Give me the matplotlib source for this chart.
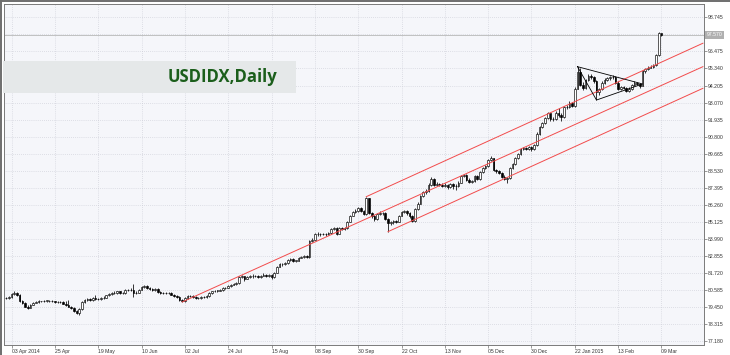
import numpy as np
import matplotlib
matplotlib.use("Agg")
import matplotlib.pyplot as plt
from matplotlib.patches import Rectangle
from matplotlib.lines import Line2D
from matplotlib.transforms import blended_transform_factory

# daily bars, 01 Apr 2014 .. 09 Mar 2015 (index 0 = 01 Apr)
first_open = 80.10
closes = [
    80.05, 80.12, 80.35, 80.42, 80.30, 79.88, 79.72, 79.50, 79.42, 79.62,
    79.76, 79.82, 79.84, 79.85, 79.88, 79.90, 79.86, 79.84, 79.80, 79.78,
    79.83, 79.70, 79.62, 79.50, 79.40, 79.22, 79.10, 79.35, 79.80, 79.95,
    80.02, 79.92, 80.05, 80.00, 80.02, 80.05, 80.10, 80.25, 80.35, 80.38,
    80.42, 80.50, 80.42, 80.40, 80.58, 80.60, 80.62, 80.40, 80.42, 80.62,
    80.78, 80.85, 80.75, 80.68, 80.62, 80.68, 80.48, 80.42, 80.40, 80.38,
    80.40, 80.30, 80.22, 80.15, 79.92, 79.85, 80.05, 80.18, 80.20, 80.15,
    80.08, 80.05, 80.12, 80.15, 80.18, 80.42, 80.50, 80.55, 80.55, 80.58,
    80.72, 80.75, 80.85, 80.95, 81.00, 81.05, 81.45, 81.50, 81.35, 81.45,
    81.55, 81.50, 81.55, 81.45, 81.55, 81.62, 81.55, 81.58, 81.45, 81.75,
    82.15, 82.35, 82.30, 82.40, 82.60, 82.65, 82.55, 82.55, 82.75, 82.80,
    82.85, 82.80, 83.85, 83.95, 84.30, 84.35, 84.30, 84.35, 84.30, 84.38,
    84.65, 84.70, 84.35, 84.75, 84.65, 84.70, 85.15, 85.55, 85.80, 85.85,
    86.05, 85.85, 85.65, 86.70, 85.75, 85.50, 85.30, 85.65, 85.75, 85.70,
    85.35, 85.05, 85.10, 85.20, 85.15, 85.55, 85.80, 85.85, 85.70, 85.50,
    85.20, 86.00, 86.35, 86.85, 87.10, 87.20, 87.60, 88.00, 87.60, 87.65,
    87.60, 87.55, 87.60, 87.45, 87.65, 87.50, 87.55, 87.75, 88.20, 88.25,
    87.95, 87.80, 87.85, 88.20, 88.00, 88.45, 88.70, 88.85, 89.25, 89.35,
    88.60, 88.50, 88.40, 88.15, 88.00, 88.05, 88.70, 89.00, 89.40, 89.65,
    89.95, 90.05, 90.00, 90.10, 89.95, 90.25, 91.00, 91.45, 91.70, 92.05,
    92.35, 91.95, 92.00, 92.35, 92.25, 92.10, 92.75, 92.80, 93.05, 92.85,
    94.00, 95.10, 94.25, 94.05, 94.55, 94.85, 94.75, 94.50, 93.75, 93.95,
    94.40, 94.60, 94.70, 94.75, 94.80, 94.40, 94.00, 94.10, 94.05, 93.85,
    94.00, 94.25, 94.40, 94.30, 94.20, 95.15, 95.30, 95.40, 95.45, 95.55,
    96.25, 97.68, 97.57,
]
highs = [
    80.16, 80.18, 80.40, 80.52, 80.48, 80.34, 79.95, 79.78, 79.58, 79.68,
    79.82, 79.90, 79.92, 79.90, 79.95, 79.96, 79.95, 79.92, 79.90, 79.86,
    79.90, 79.88, 79.86, 79.95, 79.56, 79.46, 79.28, 79.42, 79.86, 80.02,
    80.10, 80.08, 80.12, 80.28, 80.10, 80.12, 80.18, 80.30, 80.42, 80.44,
    80.50, 80.56, 80.56, 80.48, 80.64, 80.68, 80.70, 81.02, 80.52, 80.68,
    80.84, 80.92, 80.90, 80.80, 80.72, 80.75, 80.72, 80.54, 80.48, 80.46,
    80.46, 80.45, 80.36, 80.28, 80.20, 79.98, 80.12, 80.26, 80.25, 80.24,
    80.20, 80.14, 80.18, 80.22, 80.25, 80.48, 80.56, 80.62, 80.62, 80.66,
    80.78, 80.82, 80.92, 81.02, 81.08, 81.12, 81.52, 81.58, 81.56, 81.52,
    81.62, 81.66, 81.62, 81.60, 81.62, 81.70, 81.68, 81.65, 81.64, 81.80,
    82.22, 82.42, 82.42, 82.48, 82.68, 82.74, 82.70, 82.62, 82.82, 82.88,
    82.92, 82.90, 83.92, 84.05, 84.38, 84.45, 84.40, 84.42, 84.42, 84.46,
    84.72, 84.80, 84.76, 84.82, 84.80, 84.78, 85.22, 85.62, 85.88, 85.96,
    86.15, 86.12, 85.92, 86.81, 86.74, 85.82, 85.58, 85.72, 85.84, 85.82,
    85.76, 85.42, 85.20, 85.28, 85.26, 85.62, 85.88, 85.94, 85.90, 85.76,
    85.56, 86.08, 86.44, 86.94, 87.20, 87.32, 87.70, 88.15, 88.08, 87.80,
    87.74, 87.70, 87.72, 87.66, 87.74, 87.72, 87.64, 87.82, 88.28, 88.35,
    88.30, 88.02, 87.92, 88.26, 88.28, 88.52, 88.78, 88.95, 89.34, 89.50,
    89.40, 88.68, 88.58, 88.46, 88.22, 88.14, 88.78, 89.08, 89.48, 89.72,
    90.02, 90.12, 90.10, 90.18, 90.16, 90.32, 91.10, 91.52, 91.80, 92.12,
    92.45, 92.40, 92.10, 92.48, 92.72, 92.35, 92.85, 92.92, 93.15, 93.12,
    94.10, 95.46, 95.35, 94.45, 94.62, 94.95, 94.98, 94.82, 94.56, 94.05,
    94.48, 94.70, 94.80, 94.85, 94.90, 94.86, 94.48, 94.20, 94.18, 94.12,
    94.10, 94.32, 94.48, 94.46, 94.36, 95.22, 95.38, 95.48, 95.54, 95.62,
    96.32, 97.74, 97.72,
]
lows = [
    79.98, 80.00, 80.08, 80.28, 80.22, 79.82, 79.65, 79.44, 79.35, 79.38,
    79.58, 79.72, 79.76, 79.80, 79.80, 79.82, 79.80, 79.78, 79.74, 79.72,
    79.72, 79.64, 79.56, 79.44, 79.34, 79.16, 79.02, 78.92, 79.30, 79.74,
    79.90, 79.86, 79.88, 79.94, 79.92, 79.96, 80.00, 80.05, 80.20, 80.30,
    80.32, 80.36, 80.36, 80.34, 80.36, 80.52, 80.54, 80.15, 80.32, 80.38,
    80.58, 80.72, 80.68, 80.62, 80.55, 80.56, 80.40, 80.36, 80.34, 80.32,
    80.32, 80.24, 80.16, 80.08, 79.86, 79.80, 79.82, 80.00, 80.12, 80.10,
    80.02, 79.98, 80.00, 80.06, 80.10, 80.14, 80.36, 80.45, 80.48, 80.50,
    80.54, 80.66, 80.70, 80.80, 80.90, 80.94, 81.00, 81.38, 81.20, 81.30,
    81.40, 81.42, 81.44, 81.38, 81.40, 81.50, 81.48, 81.48, 81.36, 81.40,
    81.70, 82.10, 82.22, 82.24, 82.35, 82.55, 82.48, 82.46, 82.50, 82.70,
    82.74, 82.72, 82.76, 83.78, 83.90, 84.22, 84.20, 84.24, 84.22, 84.24,
    84.32, 84.58, 84.28, 84.30, 84.58, 84.58, 84.65, 85.10, 85.50, 85.72,
    85.78, 85.78, 85.58, 85.60, 85.68, 85.40, 85.22, 85.25, 85.58, 85.60,
    85.28, 84.48, 84.95, 85.02, 85.08, 85.10, 85.50, 85.74, 85.62, 85.42,
    85.12, 85.15, 85.94, 86.30, 86.80, 87.02, 87.14, 87.54, 87.50, 87.52,
    87.50, 87.45, 87.42, 87.35, 87.40, 87.30, 87.28, 87.48, 87.70, 88.12,
    87.88, 87.72, 87.74, 87.80, 87.90, 87.95, 88.40, 88.62, 88.80, 89.18,
    88.52, 88.40, 88.32, 88.08, 87.92, 87.70, 88.00, 88.64, 88.95, 89.34,
    89.60, 89.90, 89.92, 89.94, 89.86, 89.90, 90.20, 90.94, 91.38, 91.64,
    92.00, 91.86, 91.84, 91.94, 92.10, 91.85, 92.05, 92.66, 92.72, 92.76,
    92.80, 93.95, 94.15, 93.90, 93.98, 94.48, 94.62, 94.40, 93.24, 93.55,
    93.88, 94.32, 94.50, 94.60, 94.66, 94.32, 93.92, 93.94, 93.96, 93.76,
    93.78, 93.94, 94.18, 94.22, 94.05, 94.15, 95.05, 95.24, 95.34, 95.38,
    95.50, 96.20, 97.48,
]

# time axis labels (bar index where each label sits)
date_ticks = [2, 18, 34, 50, 66, 82, 98, 114, 130, 146, 162, 178, 194, 210, 226, 242]
date_labels = ["03 Apr 2014", "25 Apr", "19 May", "10 Jun", "02 Jul", "24 Jul",
               "15 Aug", "08 Sep", "30 Sep", "22 Oct", "13 Nov", "05 Dec",
               "30 Dec", "22 Jan 2015", "13 Feb", "09 Mar"]
price_ticks = [77.180, 78.315, 79.450, 80.585, 81.720, 82.855, 83.990, 85.125,
               86.260, 87.395, 88.530, 89.665, 90.800, 91.935, 93.070, 94.205,
               95.340, 96.475, 97.610, 98.745]

# drawn objects: trend channel (bar, price) pairs and triangle vertices
trend_lines = [
    ((65, 79.80), (257.3, 95.46)),
    ((133, 86.81), (257.3, 97.02)),
    ((141, 84.48), (257.3, 94.02)),
]
triangle_bars = [211, 218, 235]
triangle_prices = [95.46, 93.24, 94.31]

o = np.array([first_open] + closes[:-1])
c = np.array(closes)
h = np.array(highs)
l = np.array(lows)
x = np.arange(len(c))
up = c >= o

fig = plt.figure(figsize=(7.3, 3.55), dpi=100)
fig.patch.set_facecolor("white")
ax = fig.add_axes([4 / 730, 10 / 355, 700 / 730, 341 / 355])
ax.set_facecolor("#f5f6fa")

ax.vlines(x, l, h, color="black", linewidth=0.55, zorder=3)
body_low = np.minimum(o, c)
body_h = np.maximum(np.abs(c - o), 0.025)
ax.bar(x[up], body_h[up], bottom=body_low[up], width=0.62, color="white",
       edgecolor="black", linewidth=0.45, zorder=4)
ax.bar(x[~up], body_h[~up], bottom=body_low[~up], width=0.62, color="black",
       edgecolor="black", linewidth=0.45, zorder=4)

for (x0, y0), (x1, y1) in trend_lines:
    ax.plot([x0, x1], [y0, y1], color="#f24b4b", linewidth=0.7, zorder=5)

ax.plot(triangle_bars + triangle_bars[:1], triangle_prices + triangle_prices[:1],
        color="black", linewidth=0.6, zorder=5)

# bid line
ax.axhline(c[-1], color="#b8b8b8", linewidth=0.6, zorder=2)

ax.set_xlim(-0.78, 257.7)
ax.set_ylim(76.94, 99.63)

ax.set_axisbelow(True)
ax.grid(True, color="#c6c8d2", linestyle=(0, (1, 2)), linewidth=0.5)

ax.set_xticks(date_ticks)
ax.set_xticklabels(date_labels, ha="left", fontsize=3.7,
                   family="Liberation Sans", color="#333333")
ax.yaxis.tick_right()
ax.set_yticks(price_ticks)
ylabels = [f"{v:.3f}" for v in price_ticks]
ylabels[-2] = ""
ax.set_yticklabels(ylabels, fontsize=3.7, family="Liberation Sans", color="#333333")
ax.tick_params(axis="both", length=2, width=0.5, color="#707070", pad=1)

for s in ax.spines.values():
    s.set_color("#7a7a7a")
    s.set_linewidth(0.7)

# current price tag
tr = blended_transform_factory(ax.transAxes, ax.transData)
ax.text(1.0 + 3 / 700, c[-1], f"{c[-1]:.3f}", transform=tr, ha="left", va="center",
        fontsize=3.7, family="Liberation Sans", color="white", clip_on=False,
        bbox=dict(boxstyle="square,pad=0.3", fc="#b0b0b0", ec="none"), zorder=6)

# window frame
fig.add_artist(Line2D([0, 1], [1 - 1 / 355] * 2, color="#6e6e6e", linewidth=1.4,
                      transform=fig.transFigure))
fig.add_artist(Line2D([1 / 730] * 2, [0, 1], color="#6e6e6e", linewidth=1.4,
                      transform=fig.transFigure))

# symbol box
fig.add_artist(Rectangle((3 / 730, (355 - 93) / 355), 293 / 730, 32 / 355,
                         transform=fig.transFigure, facecolor="#e5e8e9",
                         edgecolor="none", zorder=5))
fig.text(277 / 730, (355 - 77.5) / 355, "USDIDX,Daily", ha="right", va="center",
         fontsize=12, fontweight="bold", family="Open Sans", color="#1b5e1b", zorder=6)

fig.savefig("out.png", dpi=100, facecolor=fig.get_facecolor())
